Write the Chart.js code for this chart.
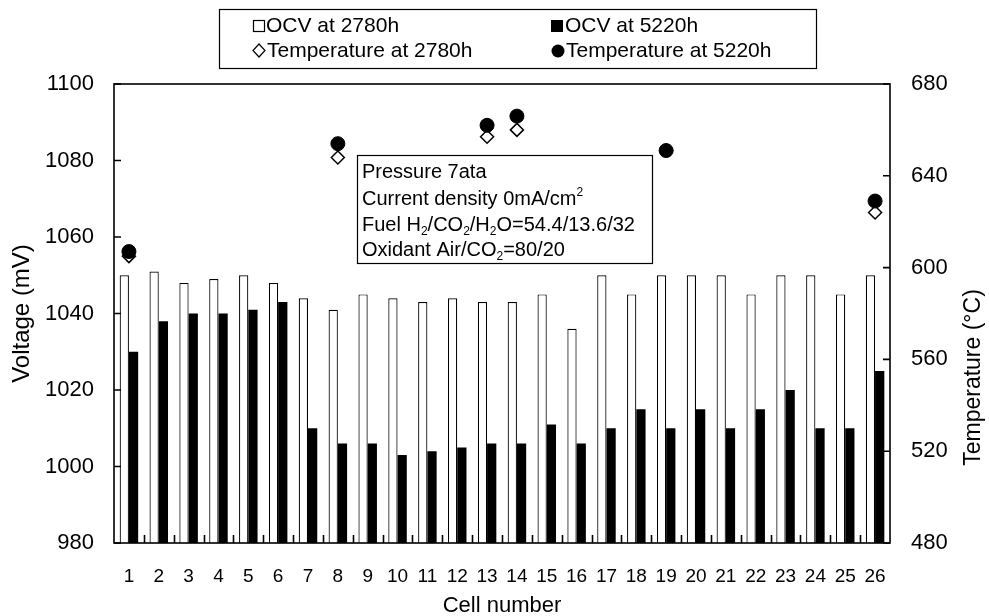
<!DOCTYPE html>
<html>
<head>
<meta charset="utf-8">
<script src="https://cdn.jsdelivr.net/npm/chart.js@4.4.1/dist/chart.umd.min.js"></script>
<style>
  html, body { margin: 0; padding: 0; background: #fff; }
  #wrap { width: 989px; height: 616px; }
</style>
</head>
<body>
<div id="wrap"><canvas id="chart"></canvas></div>
<script>
const cells = ['1', '2', '3', '4', '5', '6', '7', '8', '9', '10', '11', '12', '13',
  '14', '15', '16', '17', '18', '19', '20', '21', '22', '23', '24', '25', '26'];
const ocv2780 = [1050, 1051, 1048, 1049, 1050, 1048, 1044, 1041, 1045, 1044, 1043, 1044, 1043,
  1043, 1045, 1036, 1050, 1045, 1050, 1050, 1050, 1045, 1050, 1050, 1045, 1050];
const ocv5220 = [1030, 1038, 1040, 1040, 1041, 1043, 1010, 1006, 1006, 1003, 1004, 1005, 1006,
  1006, 1011, 1006, 1010, 1015, 1010, 1015, 1010, 1015, 1020, 1010, 1010, 1025];
const temp2780 = [605, null, null, null, null, null, null, 648, null, null, null, null, 657,
  660, null, null, null, null, 651, null, null, null, null, null, null, 624];
const temp5220 = [607, null, null, null, null, null, null, 654, null, null, null, null, 662,
  666, null, null, null, null, 651, null, null, null, null, null, null, 629];
const voltageTicks = [980, 1000, 1020, 1040, 1060, 1080, 1100];
const tempTicks = [480, 520, 560, 600, 640, 680];

const SANS = '"Liberation Sans", Arial, sans-serif';

// draw a line made of pieces, some sub/superscripted
function drawRich(ctx, x, y, parts, size) {
  parts.forEach((p) => {
    const s = p.sub || p.sup ? size * 0.6 : size;
    ctx.font = `${s}px ${SANS}`;
    let dy = 0;
    if (p.sub) dy = size * 0.22;
    if (p.sup) dy = -size * 0.45;
    ctx.fillText(p.t, x, y + dy);
    x += ctx.measureText(p.t).width;
  });
}

const decorations = {
  id: 'decorations',
  afterDatasetsDraw(chart) {
    const { ctx, chartArea: a, scales } = chart;
    ctx.save();
    ctx.strokeStyle = '#000';
    ctx.fillStyle = '#000';

    // frame
    ctx.lineWidth = 1.6;
    ctx.strokeRect(a.left, a.top, a.right - a.left, a.bottom - a.top);

    // inward ticks
    ctx.beginPath();
    voltageTicks.forEach((v) => {
      const y = scales.y.getPixelForValue(v);
      ctx.moveTo(a.left, y); ctx.lineTo(a.left + 7, y);
    });
    tempTicks.forEach((v) => {
      const y = scales.y2.getPixelForValue(v);
      ctx.moveTo(a.right, y); ctx.lineTo(a.right - 7, y);
    });
    const step = (a.right - a.left) / cells.length;
    for (let i = 1; i < cells.length; i++) {
      const x = Math.round(a.left + step * i) + 0.5;
      ctx.moveTo(x, a.bottom); ctx.lineTo(x, a.bottom - 8);
    }
    ctx.stroke();

    // right axis title, reading upwards
    ctx.save();
    ctx.translate(974, (a.top + a.bottom) / 2 + 64);
    ctx.rotate(-Math.PI / 2);
    ctx.font = `23px ${SANS}`;
    ctx.textAlign = 'center';
    ctx.textBaseline = 'middle';
    ctx.fillText('Temperature (°C)', 0, 0);
    ctx.restore();

    // legend box
    ctx.lineWidth = 1.2;
    ctx.strokeRect(219.5, 9.5, 597, 59);
    ctx.font = `21px ${SANS}`;
    ctx.textBaseline = 'middle';
    ctx.strokeRect(253.5, 20.5, 11, 11);
    ctx.fillText('OCV at 2780h', 266, 26);
    ctx.fillRect(551, 20, 12, 12);
    ctx.fillText('OCV at 5220h', 565, 26);
    ctx.beginPath();
    ctx.moveTo(259, 44); ctx.lineTo(265, 50.5); ctx.lineTo(259, 57); ctx.lineTo(253, 50.5);
    ctx.closePath(); ctx.stroke();
    ctx.fillText('Temperature at 2780h', 267, 51);
    ctx.beginPath();
    ctx.arc(558, 51, 6.5, 0, Math.PI * 2);
    ctx.fill();
    ctx.fillText('Temperature at 5220h', 566, 51);

    // conditions box
    ctx.fillStyle = '#fff';
    ctx.fillRect(357, 155, 295, 108);
    ctx.fillStyle = '#000';
    ctx.lineWidth = 1.2;
    ctx.strokeRect(357.5, 155.5, 295, 108);
    ctx.textBaseline = 'alphabetic';
    const fs = 20;
    drawRich(ctx, 362, 178, [{ t: 'Pressure 7ata' }], fs);
    drawRich(ctx, 362, 205, [{ t: 'Current density 0mA/cm' }, { t: '2', sup: true }], fs);
    drawRich(ctx, 362, 231, [{ t: 'Fuel H' }, { t: '2', sub: true }, { t: '/CO' }, { t: '2', sub: true },
      { t: '/H' }, { t: '2', sub: true }, { t: 'O=54.4/13.6/32' }], fs);
    drawRich(ctx, 362, 256, [{ t: 'Oxidant Air/CO' }, { t: '2', sub: true }, { t: '=80/20' }], fs);
    ctx.restore();
  },
};

new Chart(document.getElementById('chart'), {
  type: 'bar',
  data: {
    labels: cells,
    datasets: [
      {
        type: 'line',
        label: 'Temperature at 5220h',
        data: temp5220,
        yAxisID: 'y2',
        showLine: false,
        pointStyle: 'circle',
        pointRadius: 7,
        pointBackgroundColor: '#000',
        pointBorderColor: '#000',
        order: 1,
      },
      {
        type: 'line',
        label: 'Temperature at 2780h',
        data: temp2780,
        yAxisID: 'y2',
        showLine: false,
        pointStyle: 'rectRot',
        pointRadius: 6.5,
        pointBorderWidth: 1.5,
        pointBackgroundColor: '#fff',
        pointBorderColor: '#000',
        order: 2,
      },
      {
        label: 'OCV at 2780h',
        data: ocv2780,
        yAxisID: 'y',
        backgroundColor: '#fff',
        borderColor: '#000',
        borderWidth: 1.2,
        borderSkipped: false,
        categoryPercentage: 0.62,
        barPercentage: 1,
        order: 3,
      },
      {
        label: 'OCV at 5220h',
        data: ocv5220,
        yAxisID: 'y',
        backgroundColor: '#000',
        borderColor: '#000',
        borderWidth: 0,
        categoryPercentage: 0.62,
        barPercentage: 1,
        order: 4,
      },
    ],
  },
  options: {
    responsive: true,
    maintainAspectRatio: false,
    animation: false,
    layout: { padding: { top: 84, left: 0, right: 0, bottom: 0 } },
    plugins: {
      legend: { display: false },
      tooltip: { enabled: false },
    },
    scales: {
      x: {
        grid: { display: false },
        border: { display: false },
        ticks: {
          color: '#000',
          font: { family: SANS, size: 19 },
          padding: 14,
          maxRotation: 0,
          autoSkip: false,
        },
        title: {
          display: true,
          text: 'Cell number',
          color: '#000',
          font: { family: SANS, size: 22, lineHeight: 0.9 },
          padding: { top: 0, bottom: 0 },
        },
        afterFit(scale) { scale.height = 73; },
      },
      y: {
        position: 'left',
        min: 980,
        max: 1100,
        grid: { display: false },
        border: { display: false },
        afterBuildTicks(scale) { scale.ticks = voltageTicks.map((v) => ({ value: v })); },
        ticks: {
          color: '#000',
          font: { family: SANS, size: 22 },
          padding: 12,
          callback(val) { return String(val); },
        },
        title: {
          display: true,
          text: 'Voltage (mV)',
          color: '#000',
          font: { family: SANS, size: 24 },
          padding: { top: 8, bottom: 0 },
        },
        afterFit(scale) { scale.width = 114; },
      },
      y2: {
        position: 'right',
        min: 480,
        max: 680,
        grid: { display: false },
        border: { display: false },
        afterBuildTicks(scale) { scale.ticks = tempTicks.map((v) => ({ value: v })); },
        ticks: {
          color: '#000',
          font: { family: SANS, size: 22 },
          padding: 13,
          callback(val) { return String(val); },
        },
        afterFit(scale) { scale.width = 99; },
      },
    },
  },
  plugins: [decorations],
});
</script>
</body>
</html>
